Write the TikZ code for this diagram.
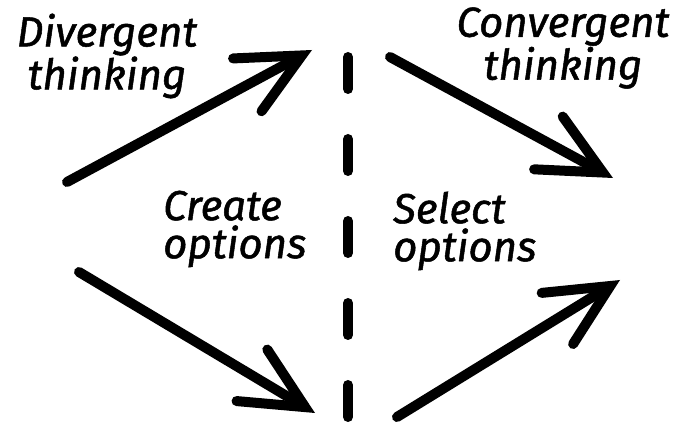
\documentclass[tikz,border=0pt]{standalone}
\usepackage{fontspec}
\setmainfont{Fira Sans}[ItalicFeatures={FakeBold=1.2}]
\usetikzlibrary{arrows.meta}
\begin{document}
\begin{tikzpicture}[x=1pt,y=-1pt,
    bigarrow/.style={line width=10pt,line cap=round,
      -{Straight Barb[length=62pt,width=60pt,line cap=round,line join=miter]}},
    divider/.style={line width=10pt,line cap=round,dash pattern=on 32pt off 50pt},
    handtext/.style={font=\fontsize{42}{38}\selectfont\itshape,inner sep=0pt}]
  \clip (0,0) rectangle (673,422);
  \coordinate (top) at (348,57);
  \coordinate (bottom) at (348,460);
  \draw[divider] (top) -- (bottom);
  \node[handtext,align=center] (diverge) at (107,56) {Divergent\\thinking};
  \node[handtext,align=center] (converge) at (563,48) {Convergent\\thinking};
  \node[handtext,align=left,anchor=west] (create) at (163,229) {Create\\options};
  \node[handtext,align=left,anchor=west] (select) at (393,231) {Select\\options};
  \coordinate (a1) at (67,182);  \coordinate (b1) at (312,50);
  \coordinate (a2) at (79,272);  \coordinate (b2) at (315,413);
  \coordinate (a3) at (390,57);  \coordinate (b3) at (613,178);
  \coordinate (a4) at (397,417); \coordinate (b4) at (620,280);
  \draw[bigarrow] (a1) -- (b1);
  \draw[bigarrow] (a2) -- (b2);
  \draw[bigarrow] (a3) -- (b3);
  \draw[bigarrow] (a4) -- (b4);
\end{tikzpicture}
\end{document}
